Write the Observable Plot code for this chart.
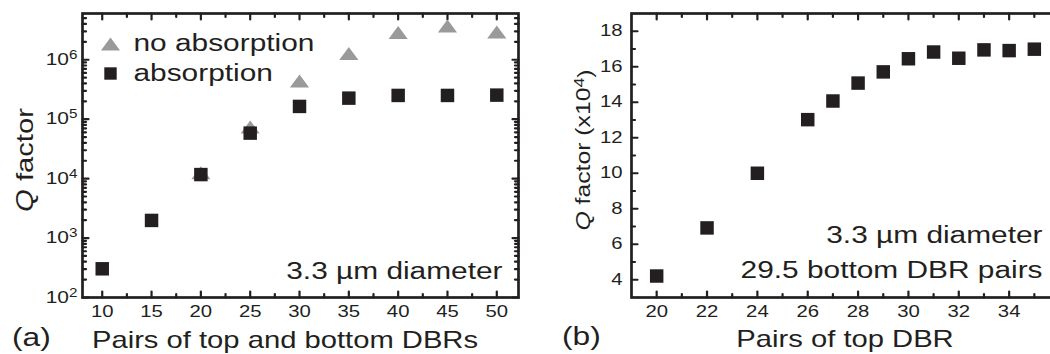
<!DOCTYPE html>
<html><head><meta charset="utf-8">
<script src="https://cdn.jsdelivr.net/npm/d3@7"></script>
<script src="https://cdn.jsdelivr.net/npm/@observablehq/plot@0.6"></script>
<style>
html,body{margin:0;padding:0;background:#fff;overflow:hidden;}
#chart{position:relative;width:1050px;height:354px;overflow:hidden;}
#chart svg{position:absolute;top:0;max-width:none;}
</style></head><body><div id="chart"></div>
<script>
// ---------- data ----------
const pairsBoth = [10, 15, 20, 25, 30, 35, 40, 45, 50];
const qAbsorption = [304, 1980, 11700, 58300, 164000, 226000, 251000, 251000, 254000];
const pairsNoAbs = [20, 25, 30, 35, 40, 45, 50];
const qNoAbsorption = [12500, 74000, 441000, 1270000, 2870000, 3690000, 2920000];

const pairsTop = [20, 22, 24, 26, 27, 28, 29, 30, 31, 32, 33, 34, 35];
const qTopE4 = [4.21, 6.92, 10.0, 13.02, 14.07, 15.08, 15.71, 16.45, 16.83, 16.48, 16.95, 16.91, 16.99];

const xTicksA = [10, 15, 20, 25, 30, 35, 40, 45, 50];
const xMinorA = [12.5, 17.5, 22.5, 27.5, 32.5, 37.5, 42.5, 47.5];
const yTicksA = [1e2, 1e3, 1e4, 1e5, 1e6];
const yMinorMultA = [2, 3, 4, 5, 6, 7, 8, 9];
const xTicksB = [20, 22, 24, 26, 28, 30, 32, 34];
const xMinorB = [21, 23, 25, 27, 29, 31, 33, 35];
const yTicksB = [4, 6, 8, 10, 12, 14, 16, 18];
const yMinorB = [5, 7, 9, 11, 13, 15, 17];

const legendLabels = ["no absorption", "absorption"];
const noteA = ["3.3 µm diameter"];
const noteB = ["3.3 µm diameter", "29.5 bottom DBR pairs"];
const xTitleA = "Pairs of top and bottom DBRs";
const xTitleB = "Pairs of top DBR";

// ---------- style ----------
const FONT = "'Liberation Sans', Arial, Helvetica, sans-serif";
const INK = "#231f20";
const GRAY = "#9a9a9a";
const STRETCH = 1.27;

const tickShape = {draw(ctx, l) { ctx.moveTo(0, 0); ctx.lineTo(0, -l); }};
const squareSym = {draw(ctx, size) { const s = Math.sqrt(size); ctx.rect(-s / 2, -s / 2, s, s); }};
const triSym = {draw(ctx, size) {
  const s = Math.sqrt(size), b = s * 1.15, h = s * 0.78;
  ctx.moveTo(0, -h / 2); ctx.lineTo(b / 2, h / 2); ctx.lineTo(-b / 2, h / 2); ctx.closePath();
}};
const R_SQ = 7.6, R_TRI = 9.4;

function frameTicks(xs, ys, len) {
  const o = {length: len, anchor: "start", shape: tickShape, stroke: INK, strokeWidth: 2.2, strokeLinecap: "round"};
  return [
    Plot.vector(xs, {...o, x: d => d, frameAnchor: "bottom", rotate: 0}),
    Plot.vector(xs, {...o, x: d => d, frameAnchor: "top", rotate: 180}),
    Plot.vector(ys, {...o, y: d => d, frameAnchor: "left", rotate: 90}),
    Plot.vector(ys, {...o, y: d => d, frameAnchor: "right", rotate: -90})
  ];
}

const yMinorA = yTicksA.flatMap(d => yMinorMultA.map(m => m * d)).filter(v => v < 6e6);

const dataAbs = pairsBoth.map((p, i) => ({p, q: qAbsorption[i]}));
const dataNoAbs = pairsNoAbs.map((p, i) => ({p, q: qNoAbsorption[i]}));
const dataTop = pairsTop.map((p, i) => ({p, q: qTopE4[i]}));

const common = {
  height: 354, marginTop: 13, marginBottom: 57,
  style: {fontFamily: FONT, fontSize: "16px", color: INK, background: "transparent", overflow: "visible"}
};

// ---------- panel (a) ----------
const plotA = Plot.plot({
  ...common,
  width: 540, marginLeft: 82, marginRight: 22,
  x: {domain: [8, 52.2]},
  y: {type: "log", domain: [100, 6e6]},
  marks: [
    ...frameTicks(xTicksA, yTicksA, 6),
    ...frameTicks(xMinorA, yMinorA, 3.5),
    Plot.frame({stroke: INK, strokeWidth: 2.7}),
    Plot.axisX(xTicksA, {tickSize: 0, tickPadding: 8, label: null, fontSize: 16}),
    Plot.axisY(yTicksA, {tickSize: 0, tickPadding: 5, label: null, fontSize: 16.5,
      tickFormat: d => "10^" + Math.round(Math.log10(d))}),
    Plot.dot(dataNoAbs, {x: "p", y: "q", symbol: triSym, r: R_TRI, fill: GRAY, stroke: "none"}),
    Plot.dot(dataAbs, {x: "p", y: "q", symbol: squareSym, r: R_SQ, fill: INK, stroke: "none"}),
    Plot.dot([legendLabels[0]], {frameAnchor: "top-left", dx: 28, dy: 30.5, symbol: triSym, r: R_TRI, fill: GRAY, stroke: "none"}),
    Plot.dot([legendLabels[1]], {frameAnchor: "top-left", dx: 28, dy: 60, symbol: squareSym, r: R_SQ * 0.92, fill: INK, stroke: "none"}),
    Plot.text([legendLabels[0]], {text: d => d, frameAnchor: "top-left", dx: 51, dy: 37, textAnchor: "start", lineAnchor: "bottom", fontSize: 23.5, fill: INK}),
    Plot.text([legendLabels[1]], {text: d => d, frameAnchor: "top-left", dx: 51, dy: 67, textAnchor: "start", lineAnchor: "bottom", fontSize: 23.5, fill: INK}),
    Plot.text(noteA, {text: d => d, frameAnchor: "bottom-right", dx: -16, dy: -19, textAnchor: "end", lineAnchor: "bottom", fontSize: 23.5, fill: INK})
  ]
});

// ---------- panel (b) ----------
const plotB = Plot.plot({
  ...common,
  width: 520, marginLeft: 86, marginRight: 6,
  x: {domain: [19, 36]},
  y: {domain: [3, 19]},
  marks: [
    ...frameTicks(xTicksB, yTicksB, 6),
    ...frameTicks(xMinorB, yMinorB, 3.5),
    Plot.frame({stroke: INK, strokeWidth: 2.7}),
    Plot.axisX(xTicksB, {tickSize: 0, tickPadding: 8, label: null, fontSize: 16}),
    Plot.axisY(yTicksB, {tickSize: 0, tickPadding: 9, label: null, fontSize: 16}),
    Plot.dot(dataTop, {x: "p", y: "q", symbol: squareSym, r: R_SQ, fill: INK, stroke: "none"}),
    Plot.text([noteB[0]], {text: d => d, frameAnchor: "bottom-right", dx: -17, dy: -55, textAnchor: "end", lineAnchor: "bottom", fontSize: 23.5, fill: INK}),
    Plot.text([noteB[1]], {text: d => d, frameAnchor: "bottom-right", dx: -17, dy: -20, textAnchor: "end", lineAnchor: "bottom", fontSize: 23.5, fill: INK})
  ]
});

const chart = document.getElementById("chart");
chart.appendChild(plotA);
chart.appendChild(plotB);
d3.select(plotA).style("left", "0px");
d3.select(plotB).style("left", "545px");

// superscript exponents on log tick labels
d3.select(plotA).selectAll('g[aria-label="y-axis tick label"] text').each(function() {
  const t = d3.select(this);
  const parts = t.text().split("^");
  t.text(parts[0]);
  t.append("tspan").attr("dy", "-0.5em").attr("font-size", "12px").text(parts[1]);
});

function addText(svg, {x, y, size, anchor = "middle", rotate = 0}) {
  return d3.select(svg).append("text")
    .attr("transform", `translate(${x},${y}) rotate(${rotate})`)
    .attr("text-anchor", anchor)
    .attr("font-family", FONT)
    .attr("font-size", size)
    .attr("fill", INK);
}

// panel letters
addText(plotA, {x: 12, y: 346, size: 25, anchor: "start"}).text("(a)");
addText(plotB, {x: 17, y: 345, size: 25, anchor: "start"}).text("(b)");
// x titles
addText(plotA, {x: 285, y: 348, size: 23}).text(xTitleA);
addText(plotB, {x: 300, y: 347, size: 23}).text(xTitleB);
// y titles
const ya = addText(plotA, {x: 33, y: 160, size: 23, rotate: -90});
ya.append("tspan").attr("font-style", "italic").text("Q");
ya.append("tspan").text(" factor");
const yb = addText(plotB, {x: 45, y: 150, size: 19.5, rotate: -90});
yb.append("tspan").attr("font-style", "italic").text("Q");
yb.append("tspan").text(" factor (x10");
yb.append("tspan").attr("dy", "-0.45em").attr("font-size", "14px").text("4");
yb.append("tspan").attr("dy", "0.45em").text(")");

// wide glyphs as in the reference: stretch every text along its reading direction
document.querySelectorAll("#chart svg text").forEach(t => {
  const tr = t.getAttribute("transform");
  if (tr) {
    t.setAttribute("transform", `${tr} scale(${STRETCH},1)`);
  } else {
    const x = +(t.getAttribute("x") || 0), y = +(t.getAttribute("y") || 0);
    t.setAttribute("transform", `translate(${x},${y}) scale(${STRETCH},1) translate(${-x},${-y})`);
  }
});
</script>
</body></html>
